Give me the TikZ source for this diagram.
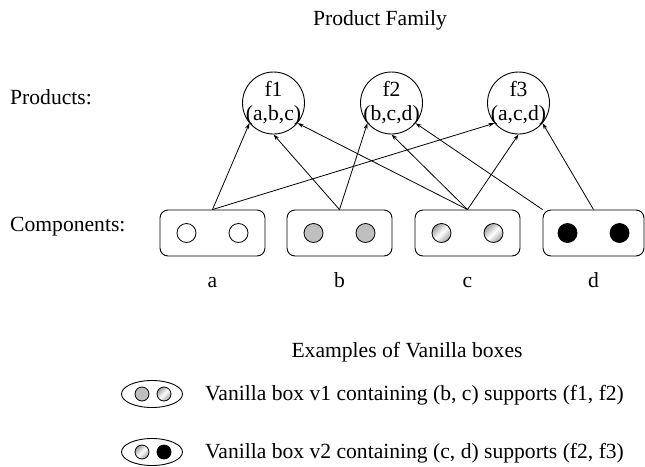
\documentclass[tikz,border=0pt]{standalone}
\usepackage{fontspec}
\setmainfont{Liberation Serif}
\usetikzlibrary{arrows.meta,shapes.geometric}
\begin{document}
\begin{tikzpicture}[x=1pt,y=-1pt,
  txt/.style={font=\fontsize{21.6}{24}\selectfont, inner sep=0pt},
  prod/.style={circle, draw, minimum size=62pt, inner sep=0pt, line width=0.9pt},
  comp/.style={draw, rounded corners=8pt, minimum width=105pt, minimum height=46pt, line width=0.9pt},
  dot/.style={circle, draw, minimum size=19pt, inner sep=0pt, line width=0.8pt},
  sdot/.style={circle, draw, minimum size=14pt, inner sep=0pt, line width=0.8pt},
  metal/.style={top color=gray!75, bottom color=gray!75, middle color=white, shading angle=45},
  vbox/.style={draw, ellipse, minimum width=61pt, minimum height=27pt, inner sep=0pt, line width=0.9pt},
  edge/.style={-{Stealth[length=6pt,width=4pt]}, line width=0.8pt},
]
\useasboundingbox (0,0) rectangle (645,466);

\node[txt] (title) at (380,20) {Product Family};
\node[txt, anchor=west] (lprod) at (10,97) {Products:};
\node[txt, anchor=west] (lcomp) at (10,227) {Components:};

% products
\node[prod] (f1) at (273.5,103) {};
\node[prod] (f2) at (391.5,103) {};
\node[prod] (f3) at (518.5,103) {};
\node[txt] (f1a) at (273.5,89) {f1};
\node[txt] (f1b) at (273.5,115) {(a,b,c)};
\node[txt] (f2a) at (391.5,89) {f2};
\node[txt] (f2b) at (391.5,115) {(b,c,d)};
\node[txt] (f3a) at (518.5,89) {f3};
\node[txt] (f3b) at (518.5,115) {(a,c,d)};

% components
\node[comp] (a) at (212.5,233) {};
\node[comp] (b) at (339.5,233) {};
\node[comp] (c) at (467.5,233) {};
\node[comp, minimum width=101pt] (d) at (593.5,233) {};

\node[dot] (a1) at (186.5,233) {};
\node[dot] (a2) at (238.5,233) {};
\node[dot, fill=gray!50] (b1) at (313.5,233) {};
\node[dot, fill=gray!50] (b2) at (365.5,233) {};
\node[dot, metal] (c1) at (441.5,233) {};
\node[dot, metal] (c2) at (493.5,233) {};
\node[dot, fill=black] (d1) at (567.5,233) {};
\node[dot, fill=black] (d2) at (619.5,233) {};

\node[txt, anchor=base] (la) at (212.5,287) {a};
\node[txt, anchor=base] (lb) at (339.5,287) {b};
\node[txt, anchor=base] (lc) at (467.5,287) {c};
\node[txt, anchor=base] (ld) at (593.5,287) {d};

% edges
\draw[edge] (a.north) -- (f1.-140);
\draw[edge] (a.north) -- (f3.-140);
\draw[edge] (b.north) -- (f1.-90);
\draw[edge] (b.north) -- (f2.-140);
\draw[edge] (c.north) -- (f1.-40);
\draw[edge] (c.north) -- (f2.-90);
\draw[edge] (c.north) -- (f3.-90);
\draw[edge] (d.north west) -- (f2.-40);
\draw[edge] (d.north) -- (f3.-40);

% examples
\node[txt] (ex) at (407,352) {Examples of Vanilla boxes};
\node[vbox] (v1) at (152,394) {};
\node[sdot, fill=gray!50] (v1b) at (142,394) {};
\node[sdot, metal] (v1c) at (164,394) {};
\node[txt, anchor=west] (t1) at (205,395) {Vanilla box v1 containing (b, c) supports (f1, f2)};
\node[vbox] (v2) at (152,452) {};
\node[sdot, metal] (v2c) at (142,452) {};
\node[sdot, fill=black] (v2d) at (164,452) {};
\node[txt, anchor=west] (t2) at (205,453) {Vanilla box v2 containing (c, d) supports (f2, f3)};
\end{tikzpicture}
\end{document}
